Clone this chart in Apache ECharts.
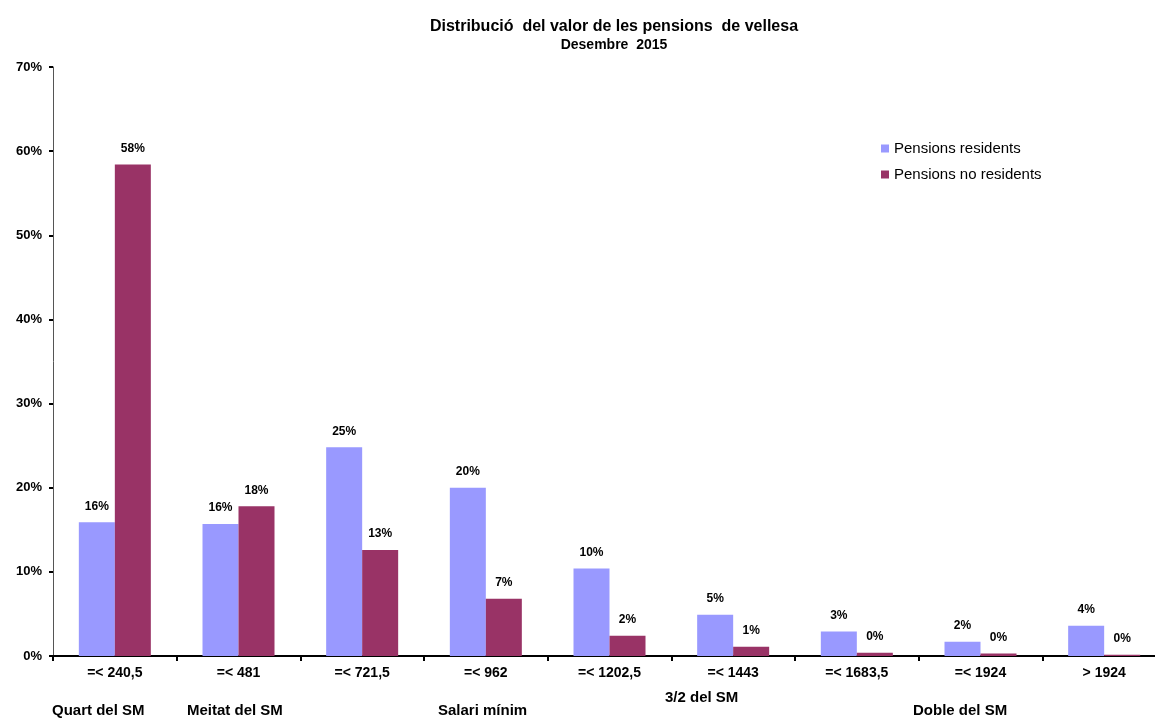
<!DOCTYPE html>
<html><head><meta charset="utf-8">
<script src="https://cdn.jsdelivr.net/npm/echarts@6/dist/echarts.min.js"></script>
<style>html,body{margin:0;padding:0;background:#fff;overflow:hidden}#c{width:1170px;height:719px}</style>
</head><body><div id="c"></div>
<script>
const categories = ["=< 240,5","=< 481","=< 721,5","=< 962","=< 1202,5","=< 1443","=< 1683,5","=< 1924","> 1924"];
const residents = [15.9, 15.7, 24.8, 20.0, 10.4, 4.9, 2.9, 1.7, 3.6];
const noResidents = [58.4, 17.8, 12.6, 6.8, 2.4, 1.1, 0.4, 0.3, 0.15];
const groupLabels = ["Quart del SM","Meitat del SM","Salari mínim","3/2 del SM","Doble del SM"];
const yTicks = [0,10,20,30,40,50,60,70];

const chart = echarts.init(document.getElementById('c'));
const font = '"Liberation Sans", Arial, sans-serif';
const lbl = {show:true, position:'top', distance:10, color:'#000', fontFamily:font, fontSize:12, fontWeight:'bold',
  formatter: p => Math.round(p.value) + '%'};
chart.setOption({
  animation:false,
  title:{text:'Distribució  del valor de les pensions  de vellesa', subtext:'Desembre  2015', left:609, textAlign:'center', top:14, itemGap:3,
    textStyle:{fontFamily:font, fontSize:16, fontWeight:'bold', color:'#000'},
    subtextStyle:{fontFamily:font, fontSize:14, fontWeight:'bold', color:'#000'}},
  legend:{orient:'vertical', left:876, top:136, itemWidth:8, itemHeight:8, itemGap:11, icon:'rect',
    textStyle:{fontFamily:font, fontSize:15, color:'#000'}},
  grid:{left:53, top:67, width:1113, height:589},
  xAxis:{type:'category', data:categories,
    axisLine:{lineStyle:{color:'#000', width:2}},
    axisTick:{show:true, length:5, lineStyle:{color:'#000', width:2}},
    axisLabel:{color:'#000', fontFamily:font, fontSize:14, fontWeight:'bold', margin:10}},
  yAxis:{type:'value', min:0, max:70, interval:10,
    axisLine:{show:true, lineStyle:{color:'#555', width:1}},
    axisTick:{show:true, length:4, lineStyle:{color:'#000', width:2}},
    splitLine:{show:false},
    axisLabel:{color:'#000', fontFamily:font, fontSize:13, fontWeight:'bold', margin:11, formatter: v => v + '%'}},
  series:[
    {name:'Pensions residents', type:'bar', data:residents, barWidth:36, barGap:'0%', itemStyle:{color:'#9999FF'}, label:lbl},
    {name:'Pensions no residents', type:'bar', data:noResidents, barWidth:36, barGap:'0%', itemStyle:{color:'#993366'}, label:lbl}
  ],
  graphic:[
    {type:'text', left:52, top:703, style:{text:groupLabels[0], font:'bold 15px '+font, fill:'#000'}},
    {type:'text', left:187, top:703, style:{text:groupLabels[1], font:'bold 15px '+font, fill:'#000'}},
    {type:'text', left:438, top:703, style:{text:groupLabels[2], font:'bold 15px '+font, fill:'#000'}},
    {type:'text', left:665, top:690, style:{text:groupLabels[3], font:'bold 15px '+font, fill:'#000'}},
    {type:'text', left:913, top:703, style:{text:groupLabels[4], font:'bold 15px '+font, fill:'#000'}}
  ]
});
</script></body></html>
